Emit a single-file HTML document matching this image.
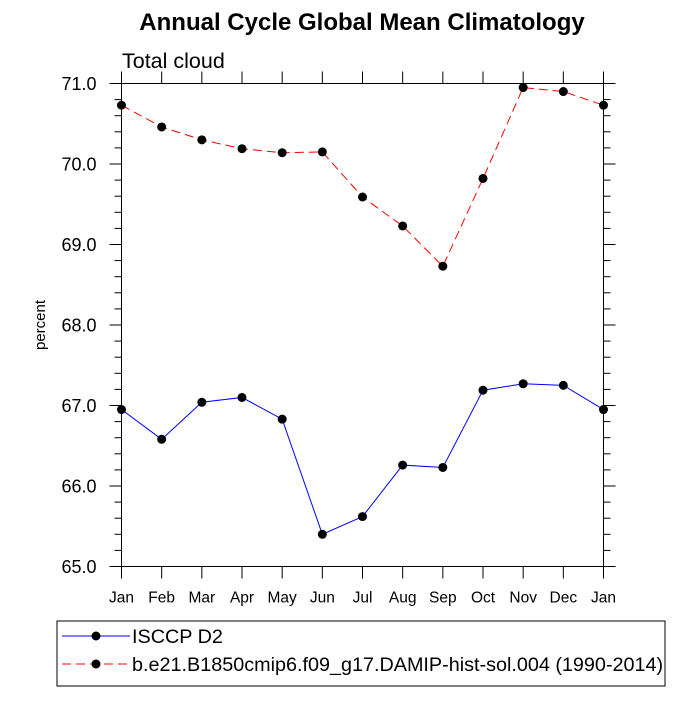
<!DOCTYPE html>
<html><head><meta charset="utf-8"><style>
body{margin:0;background:#fff;width:700px;height:700px;overflow:hidden}
svg{font-family:"Liberation Sans",sans-serif}
</style></head><body>
<svg id="c" width="700" height="700">
<text x="362" y="30" text-anchor="middle" font-size="24" font-weight="bold">Annual Cycle Global Mean Climatology</text>
<text x="122" y="68" font-size="21.5">Total cloud</text>
<text transform="translate(45,325) rotate(-90)" text-anchor="middle" font-size="15">percent</text>
<g id="axes"></g><g id="series"></g>
<rect x="57" y="621" width="608" height="65" fill="none" stroke="#000"/>
<g>
<line x1="62" y1="636" x2="130" y2="636" stroke="#00f"/><circle cx="96" cy="636" r="4.5"/>
<text x="132" y="643" font-size="19.8">ISCCP D2</text></g>
<g>
<line x1="62" y1="664" x2="130" y2="664" stroke="#f00" stroke-dasharray="9,5"/><circle cx="96" cy="664" r="4.5"/>
<text x="132" y="671" font-size="19.8">b.e21.B1850cmip6.f09_g17.DAMIP-hist-sol.004 (1990-2014)</text></g>
</svg>
<script>
const months=["Jan","Feb","Mar","Apr","May","Jun","Jul","Aug","Sep","Oct","Nov","Dec","Jan"];
const obsValues=[66.95,66.58,67.04,67.10,66.83,65.40,65.62,66.26,66.23,67.19,67.27,67.25,66.95];
const modelValues=[70.73,70.46,70.30,70.19,70.14,70.15,69.59,69.23,68.73,69.82,70.95,70.90,70.73];
const yTicks=[65,66,67,68,69,70,71];
const NS="http://www.w3.org/2000/svg";
const L=121.5,R=603.5,T=83.5,B=566.5,ymin=65,ymax=71;
const xs=i=>L+(R-L)*i/(months.length-1);
const ys=v=>B-(B-T)*(v-ymin)/(ymax-ymin);
function mk(t,a,p){const e=document.createElementNS(NS,t);for(const k in a)e.setAttribute(k,a[k]);p.appendChild(e);return e;}
const ax=document.getElementById('axes');
const fr=mk('rect',{x:L,y:T,width:R-L,height:B-T,fill:'none',stroke:'#000','stroke-width':1},ax);


months.forEach((m,i)=>{const x=xs(i);
mk('line',{x1:x,y1:B,x2:x,y2:B+12,stroke:'#000'},ax);
mk('line',{x1:x,y1:T,x2:x,y2:T-12,stroke:'#000'},ax);
const t=mk('text',{x:x,y:B+36,'text-anchor':'middle','font-size':15.5},ax);t.textContent=m;

});
for(let v=ymin;v<=ymax+1e-9;v+=0.2){const y=ys(v);const major=Math.abs(v-Math.round(v))<1e-6;const len=major?12:7;
mk('line',{x1:L,y1:y,x2:L-len,y2:y,stroke:'#000'},ax);
mk('line',{x1:R,y1:y,x2:R+len,y2:y,stroke:'#000'},ax);}
yTicks.forEach(v=>{const t=mk('text',{x:L-25,y:ys(v)+6.5,'text-anchor':'end','font-size':18},ax);t.textContent=v.toFixed(1);

});
const sg=document.getElementById('series');
function series(vals,color,dash,name){const g=mk('g',{},sg);


const pl=mk('polyline',{points:vals.map((v,i)=>xs(i)+','+ys(v)).join(' '),fill:'none',stroke:color,'stroke-dasharray':dash},g);
vals.forEach((v,i)=>{const c=mk('circle',{cx:xs(i),cy:ys(v),r:4.5,fill:'#000'},g);

});}
series(obsValues,'#00f','none','isccp-series');
series(modelValues,'#f00','9,5','model-series');
</script>
</body></html>
